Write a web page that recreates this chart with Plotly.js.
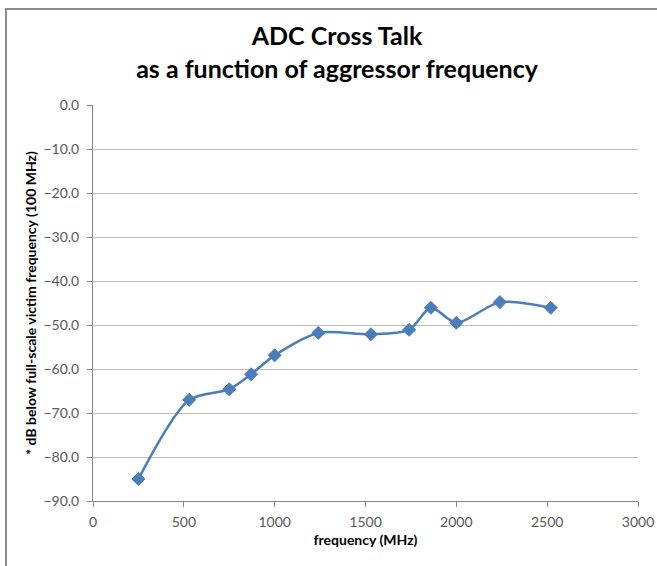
<!DOCTYPE html>
<html>
<head>
<meta charset="utf-8">
<script src="https://cdn.plot.ly/plotly-3.0.1.min.js"></script>
<style>
  html, body { margin: 0; padding: 0; background: #ffffff; }
  #frame { position: absolute; left: 5px; top: 8px; width: 700px; height: 620px; border: 2px solid #8a8a8a; box-sizing: border-box; }
  #chart { position: absolute; left: 0; top: 0; width: 657px; height: 566px; }
  #wrap { position: relative; width: 657px; height: 566px; overflow: hidden; }
</style>
</head>
<body>
<div id="wrap">
  <div id="frame"></div>
  <div id="chart"></div>
</div>
<script>
// Data
const frequencyMHz = [250, 530, 750, 870, 1000, 1240, 1530, 1740, 1860, 2000, 2240, 2520];
const dbBelowFullScale = [-85.0, -67.0, -64.6, -61.2, -56.9, -51.8, -52.1, -51.1, -46.1, -49.5, -44.8, -46.1];

const chartTitle = 'ADC Cross Talk<br>as a function of aggressor frequency';
const xTitle = 'frequency (MHz)';
const yTitle = '* dB below full-scale victim frequency (100 MHz)';

const FONT = 'Lato, "Open Sans", "DejaVu Sans", sans-serif';

const trace = {
  x: frequencyMHz,
  y: dbBelowFullScale,
  type: 'scatter',
  mode: 'lines+markers',
  line: { color: '#4a7ebb', width: 2.5, shape: 'spline', smoothing: 0.8 },
  marker: { symbol: 'diamond', size: 10, color: '#4a7ebb', line: { color: '#4a7ebb', width: 1 } },
  hoverinfo: 'x+y'
};

const layout = {
  width: 657,
  height: 566,
  paper_bgcolor: 'rgba(0,0,0,0)',
  plot_bgcolor: 'rgba(0,0,0,0)',
  margin: { l: 93, r: 19, t: 105, b: 65 },
  showlegend: false,
  font: { family: FONT, color: '#595959', size: 14 },
  title: {
    text: '<b>' + chartTitle + '</b>',
    font: { family: FONT, size: 25, color: '#000000' },
    x: 0.513, xref: 'container', xanchor: 'center',
    y: 0.920, yref: 'container', yanchor: 'top'
  },
  xaxis: {
    range: [0, 3000],
    dtick: 500,
    tick0: 0,
    showgrid: false,
    zeroline: false,
    showline: true,
    linecolor: '#868686',
    linewidth: 1,
    ticks: 'outside',
    ticklen: 5,
    tickcolor: '#868686',
    ticklabelstandoff: 3,
    tickfont: { family: FONT, size: 14, color: '#595959' },
    title: { text: '<b>' + xTitle + '</b>', font: { family: FONT, size: 14, color: '#000000' }, standoff: 6 }
  },
  yaxis: {
    range: [-90, 0],
    dtick: 10,
    tick0: 0,
    tickformat: '.1f',
    showgrid: true,
    gridcolor: '#bfbfbf',
    gridwidth: 1,
    zeroline: false,
    showline: true,
    linecolor: '#868686',
    linewidth: 1,
    ticks: 'outside',
    ticklen: 5,
    tickcolor: '#868686',
    ticklabelstandoff: 5,
    tickfont: { family: FONT, size: 14, color: '#595959' },
    title: { text: '<b>' + yTitle + '</b>', font: { family: FONT, size: 14, color: '#000000' }, standoff: 3 }
  }
};

Plotly.newPlot('chart', [trace], layout, { displayModeBar: false, staticPlot: true });
</script>
</body>
</html>
